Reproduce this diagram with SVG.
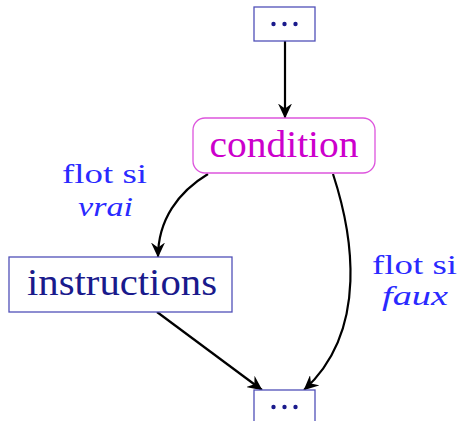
<svg xmlns="http://www.w3.org/2000/svg" width="459" height="421" viewBox="0 0 459 421">
  <style>
    .box { fill: #ffffff; stroke: #5050b8; stroke-width: 1.3; }
    .cond { fill: #ffffff; stroke: #dd55dd; stroke-width: 1.3; }
    .dot { fill: #1a1a8c; }
    .lbl { font-family: "Liberation Serif", "Times New Roman", serif; }
    .node-text { font-size: 37px; fill: #1a1a8c; }
    .cond-text { font-size: 37px; fill: #cc00cc; }
    .flow { font-size: 27px; fill: #2a2aff; }
    .edge { fill: none; stroke: #000000; stroke-width: 2.2; }
  </style>
  <defs>
    <marker id="stealth" viewBox="0 0 15 14" refX="14.5" refY="7" markerWidth="15" markerHeight="14" markerUnits="userSpaceOnUse" orient="auto">
      <path d="M0,0 L15,7 L0,14 L5,7 Z" fill="#000000"/>
    </marker>
  </defs>

  <g id="connectors">
    <path class="edge" d="M285,41 L285,118" marker-end="url(#stealth)"/>
    <path class="edge" d="M208,174 C178,192 158,220 158,257" marker-end="url(#stealth)"/>
    <path class="edge" d="M333,174 C352,232 370,330 304,390" marker-end="url(#stealth)"/>
    <path class="edge" d="M157,312 L262,390" marker-end="url(#stealth)"/>
  </g>

  <g id="start">
    <rect class="box" x="254" y="7" width="61" height="34"/>
    <circle class="dot" cx="273.5" cy="24" r="2.2"/>
    <circle class="dot" cx="284.5" cy="24" r="2.2"/>
    <circle class="dot" cx="295.5" cy="24" r="2.2"/>
  </g>

  <g id="condition">
    <rect class="cond" x="193" y="118" width="182" height="55" rx="12" ry="12"/>
    <text class="lbl cond-text" x="284" y="157" text-anchor="middle" textLength="149" lengthAdjust="spacingAndGlyphs">condition</text>
  </g>

  <g id="instructions">
    <rect class="box" x="9" y="257" width="223" height="55"/>
    <text class="lbl node-text" x="122" y="295" text-anchor="middle" textLength="190" lengthAdjust="spacingAndGlyphs">instructions</text>
  </g>

  <g id="end">
    <rect class="box" x="254" y="390" width="61" height="40"/>
    <circle class="dot" cx="273.5" cy="407" r="2.2"/>
    <circle class="dot" cx="284.5" cy="407" r="2.2"/>
    <circle class="dot" cx="295.5" cy="407" r="2.2"/>
  </g>

  <g id="label-true">
    <text class="lbl flow" x="104.5" y="183" text-anchor="middle" textLength="85" lengthAdjust="spacingAndGlyphs">flot si</text>
    <text class="lbl flow" x="105.5" y="216" text-anchor="middle" font-style="italic" textLength="55" lengthAdjust="spacingAndGlyphs">vrai</text>
  </g>

  <g id="label-false">
    <text class="lbl flow" x="414.5" y="274" text-anchor="middle" textLength="85" lengthAdjust="spacingAndGlyphs">flot si</text>
    <text class="lbl flow" x="415" y="305" text-anchor="middle" font-style="italic" textLength="66" lengthAdjust="spacingAndGlyphs">faux</text>
  </g>
</svg>
